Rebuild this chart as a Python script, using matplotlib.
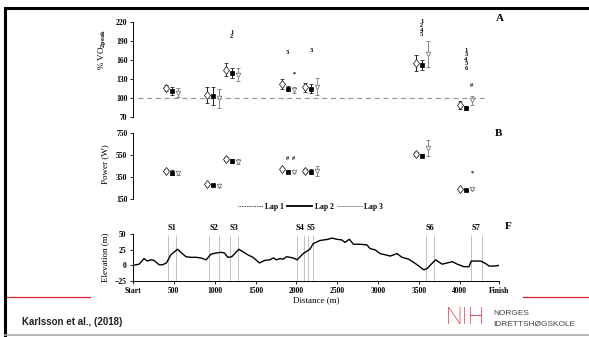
import matplotlib
matplotlib.use("Agg")
import matplotlib.pyplot as plt
from matplotlib.lines import Line2D

plt.rcParams['font.family'] = 'serif'
plt.rcParams['font.serif'] = ['Liberation Serif', 'DejaVu Serif']
plt.rcParams['font.weight'] = 'bold'
plt.rcParams['mathtext.fontset'] = 'custom'
plt.rcParams['mathtext.rm'] = 'Liberation Serif:bold'
plt.rcParams['mathtext.bf'] = 'Liberation Serif:bold'

# sections and where each group of markers sits along the course (m)
sections = ['S1', 'S2', 'S3', 'S4', 'S5', 'S6', 'S7']
group_dist = [480, 975, 1210, 1895, 2180, 3535, 4075]
sec_start = [434, 935, 1193, 2010, 2145, 3590, 4137]
sec_end = [532, 1050, 1283, 2090, 2200, 3690, 4268]

# panel A: % VO2peak (mean, sd) per lap
vo2_lap1 = [116, 105, 145, 122, 117, 155, 89]
vo2_lap1_sd = [5, 12, 10, 8, 7, 13, 6]
vo2_lap2 = [111, 103, 140, 115, 115, 152, 85]
vo2_lap2_sd = [6, 14, 8, 4, 7, 8, 3]
vo2_lap3 = [109, 100, 137, 113, 118, 169, 97]
vo2_lap3_sd = [7, 15, 10, 5, 13, 20, 7]

# panel B: power (W)
pow_lap1 = [407, 287, 513, 422, 404, 555, 239]
pow_lap1_sd = [12, 8, 15, 12, 15, 20, 8]
pow_lap2 = [389, 278, 495, 398, 398, 543, 230]
pow_lap2_sd = [20, 12, 15, 10, 20, 15, 8]
pow_lap3 = [383, 271, 488, 395, 404, 610, 242]
pow_lap3_sd = [20, 15, 20, 12, 46, 75, 12]

# significance marks: (group, lap, text, y)
vo2_marks = [(2, 2, '1\n2', 200), (3, 2, '3', 171), (3, 3, '*', 138),
             (4, 2, '3', 175), (5, 2, '1\n2\n4\n5', 210),
             (6, 2, '1\n3\n4\n5\n6', 161), (6, 3, '#', 120)]
pow_marks = [(3, 2, '#', 513), (3, 3, '#', 513), (6, 3, '*', 380)]

# panel F: elevation profile
prof_dist = [0, 74, 135, 176, 217, 258, 320, 361, 410, 463, 545, 586, 648,
             709, 771, 832, 894, 955, 1017, 1078, 1120, 1160, 1210, 1296,
             1345, 1406, 1468, 1550, 1611, 1673, 1720, 1755, 1800, 1837,
             1880, 1919, 1960, 2009, 2083, 2165, 2206, 2288, 2390, 2432,
             2493, 2555, 2595, 2648, 2698, 2780, 2862, 2903, 2964, 3026,
             3090, 3149, 3231, 3293, 3375, 3457, 3559, 3600, 3703, 3785,
             3908, 3969, 4051, 4112, 4141, 4256, 4317, 4358, 4419, 4480]
prof_elev = [0, 2, 11, 7, 9, 8, 1, 1, 4, 17, 26, 21, 14,
             13, 13, 12, 9, 18, 20, 21, 20, 13, 14, 26,
             22, 17, 13, 4, 8, 9, 12, 9, 11, 10,
             14, 13, 12, 9, 19, 26, 35, 40, 42, 44,
             42, 41, 37, 42, 34, 34, 33, 27, 25, 19,
             17, 15, 19, 13, 10, 3, -7, -5, 9, 2,
             6, 2, -2, -2, 7, 7, 3, -1, -1, 0]

xtick_pos = [0, 500, 1000, 1500, 2000, 2500, 3000, 3500, 4000, 4480]
xtick_lab = ['Start', '500', '1000', '1500', '2000', '2500', '3000', '3500',
             '4000', 'Finish']

fig = plt.figure(figsize=(5.89, 3.37), dpi=100)
left, width = 0.2258, 0.6214
ax_a = fig.add_axes([left, 0.6516, width, 0.284])
ax_b = fig.add_axes([left, 0.4095, width, 0.1967])
ax_f = fig.add_axes([left, 0.1662, width, 0.1386])

off = 75
lap_style = [
    dict(marker='d', ms=4.3, mfc='white', mec='black', mew=0.5, ecolor='black'),
    dict(marker='s', ms=3.0, mfc='black', mec='black', mew=0.5, ecolor='black'),
    dict(marker='v', ms=3.3, mfc='white', mec='#777777', mew=0.6, ecolor='#777777'),
]


def draw_groups(ax, laps, sds, marks, fs=4.6):
    for i, (vals, sd) in enumerate(zip(laps, sds)):
        xs = [g + (i - 1) * off for g in group_dist]
        ax.errorbar(xs, vals, yerr=sd, ls='none', capsize=1.4,
                    elinewidth=0.6, capthick=0.6, **lap_style[i])
    for g, lap, txt, y in marks:
        ax.text(group_dist[g] + (lap - 2) * off, y, txt, ha='center',
                va='center', fontsize=fs, linespacing=0.9)


for ax in (ax_a, ax_b):
    ax.set_xlim(0, 4480)
    for s in ('top', 'right', 'bottom'):
        ax.spines[s].set_visible(False)
    ax.spines['left'].set_linewidth(0.7)
    ax.set_xticks([])
    ax.tick_params(axis='y', direction='out', length=2.5, width=0.6,
                   labelsize=5.5, pad=1.5)

ax_a.set_ylim(70, 220)
ax_a.set_yticks([70, 100, 130, 160, 190, 220])
ax_a.hlines(100, 60, 4350, colors='#999999', linestyles=(0, (4, 3)), lw=0.9)
draw_groups(ax_a, [vo2_lap1, vo2_lap2, vo2_lap3],
            [vo2_lap1_sd, vo2_lap2_sd, vo2_lap3_sd], vo2_marks)
ax_a.set_ylabel(r'% VO$_{\mathbf{2peak}}$', fontsize=6.5, labelpad=2)
ax_a.yaxis.set_label_coords(-0.066, 0.71)

ax_b.set_ylim(150, 750)
ax_b.set_yticks([150, 350, 550, 750])
draw_groups(ax_b, [pow_lap1, pow_lap2, pow_lap3],
            [pow_lap1_sd, pow_lap2_sd, pow_lap3_sd], pow_marks)
ax_b.set_ylabel('Power (W)', fontsize=6.5)
ax_b.yaxis.set_label_coords(-0.066, 0.53)

# elevation profile
ax_f.set_xlim(0, 4480)
ax_f.set_ylim(-25, 50)
ax_f.set_yticks([-25, 0, 25, 50])
ax_f.set_xticks(xtick_pos)
ax_f.set_xticklabels(xtick_lab)
for s in ('top', 'right'):
    ax_f.spines[s].set_visible(False)
ax_f.spines['left'].set_linewidth(0.7)
ax_f.spines['bottom'].set_linewidth(0.7)
ax_f.tick_params(direction='out', length=2.5, width=0.6, labelsize=5.5, pad=2)
ax_f.vlines(sec_start + sec_end, -25, 49, colors='#aaaaaa', lw=0.5)
ax_f.plot(prof_dist, prof_elev, color='black', lw=1.0)
for name, a, b in zip(sections, sec_start, sec_end):
    ax_f.text((a + b) / 2, 60, name, ha='center', va='center', fontsize=6)
ax_f.set_ylabel('Elevation (m)', fontsize=6.5)
ax_f.yaxis.set_label_coords(-0.066, 0.5)
ax_f.set_xlabel('Distance (m)', fontsize=6.5, labelpad=1)

# legend between B and F
handles = [Line2D([], [], color='black', lw=0.6, ls=(0, (1, 1))),
           Line2D([], [], color='black', lw=1.3),
           Line2D([], [], color='#999999', lw=0.6)]
fig.legend(handles, ['Lap 1', 'Lap 2', 'Lap 3'], loc='center',
           bbox_to_anchor=(0.527, 0.386), ncol=3, frameon=False,
           fontsize=5.5, handlelength=3.3, handletextpad=0.3,
           columnspacing=0.4)

fig.text(0.849, 0.944, 'A', fontsize=8, ha='center', va='center')
fig.text(0.847, 0.605, 'B', fontsize=8, ha='center', va='center')
fig.text(0.862, 0.329, 'F', fontsize=8, ha='center', va='center')

# slide frame and footer
fig.add_artist(Line2D([0.0085, 1.0], [0.975, 0.975], color='black', lw=2.2))
fig.add_artist(Line2D([0.0085, 0.0085], [0.0, 0.975], color='black', lw=2.2))
fig.add_artist(Line2D([0.012, 0.153], [0.1187, 0.1187], color='#d6202f', lw=0.9))
fig.add_artist(Line2D([0.888, 1.0], [0.1187, 0.1187], color='#d6202f', lw=0.9))
fig.add_artist(Line2D([0.0085, 1.0], [0.006, 0.006], color='#aaaaaa', lw=1.2))

fig.text(0.037, 0.045, 'Karlsson et al., (2018)', fontsize=7,
         family='Liberation Sans', weight='bold', color='#222222',
         ha='left', va='center')
fig.text(0.756, 0.058, 'NIH', fontsize=17, family='Roboto', weight='light',
         color='#d6202f', ha='left', va='center')
fig.text(0.838, 0.07, 'NORGES', fontsize=6, family='Liberation Sans',
         weight='normal', color='#444444', ha='left', va='center')
fig.text(0.838, 0.038, 'IDRETTSHØGSKOLE', fontsize=6, family='Liberation Sans',
         weight='normal', color='#444444', ha='left', va='center')

fig.savefig('out.png', dpi=100)
